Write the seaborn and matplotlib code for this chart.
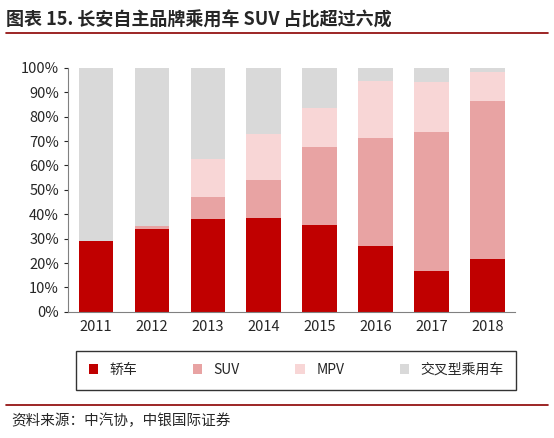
import matplotlib
matplotlib.use("Agg")
import matplotlib.pyplot as plt
import seaborn as sns
import numpy as np

years = ["2011", "2012", "2013", "2014", "2015", "2016", "2017", "2018"]
sedan = [29, 34, 38, 38.5, 35.7, 27, 16.8, 21.7]
suv = [0, 1, 9, 15.5, 32, 44.3, 57, 64.8]
mpv = [0, 0, 15.7, 19, 16, 23.4, 20.5, 11.9]
other = [71, 65, 37.3, 27, 16.3, 5.3, 5.7, 1.6]

names = ["轿车", "SUV", "MPV", "交叉型乘用车"]
colors = ["#C00000", "#E8A3A3", "#F8D6D6", "#D9D9D9"]

sns.set_style("white")
plt.rcParams['font.family'] = ['Noto Sans CJK SC', 'DejaVu Sans']

fig = plt.figure(figsize=(5.54, 4.38), dpi=100)
ax = fig.add_axes([0.123, 0.288, 0.807, 0.557])

bottom = np.zeros(len(years))
for name, vals, c in zip(names, [sedan, suv, mpv, other], colors):
    sns.barplot(x=years, y=vals, bottom=bottom, color=c, width=0.62, ax=ax,
                label=name, linewidth=0, saturation=1)
    bottom += np.array(vals)

ax.set_ylim(0, 100)
ax.set_yticks(range(0, 101, 10))
ax.set_yticklabels([f"{v}%" for v in range(0, 101, 10)], fontsize=10.5)
ax.tick_params(axis='x', labelsize=10.5, length=0, pad=6)
ax.tick_params(axis='y', length=3, direction='out', left=True)
for s in ["top", "right"]:
    ax.spines[s].set_visible(False)
ax.spines["left"].set_color("#808080")
ax.spines["bottom"].set_color("#808080")

leg = ax.legend(loc="upper center", bbox_to_anchor=(0.51, -0.13), ncol=4,
                frameon=True, fancybox=False, edgecolor="black", fontsize=10,
                handlelength=0.7, handleheight=0.7, columnspacing=4.0,
                borderpad=0.9)

fig.text(0.01, 0.955, "图表 15. 长安自主品牌乘用车 SUV 占比超过六成", fontsize=13,
         fontweight="bold", va="center")
fig.add_artist(plt.Line2D([0.01, 0.99], [0.925, 0.925], color="#8B0000", lw=1.2))
fig.add_artist(plt.Line2D([0.01, 0.99], [0.075, 0.075], color="#8B0000", lw=1.2))
fig.text(0.02, 0.04, "资料来源：中汽协，中银国际证券", fontsize=10.5,
         fontstyle="italic", va="center")

fig.savefig("out.png", dpi=100)
